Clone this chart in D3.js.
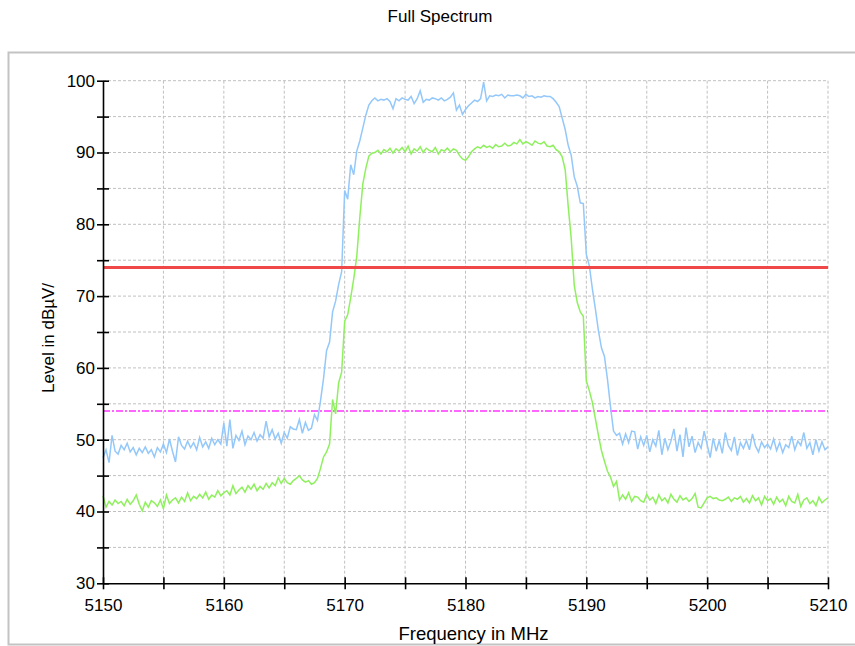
<!DOCTYPE html>
<html>
<head>
<meta charset="utf-8">
<script src="https://cdn.jsdelivr.net/npm/d3@7/dist/d3.min.js"></script>
<style>
  body { margin: 0; background: #fff; }
  svg { display: block; font-family: "Liberation Sans", Arial, sans-serif; }
  .grid line { stroke: #c0c0c0; stroke-width: 1; stroke-dasharray: 3,2; }
  .axis path, .axis line { stroke: #000; stroke-width: 1.6; }
  .axis text { font-size: 17px; fill: #000; }
</style>
</head>
<body>
<div id="chart"></div>
<script>
// spectrum sampled every 0.25 MHz from 5150 to 5210 MHz
var freqStart = 5150, freqStep = 0.25

var peakTrace = [
  47.5, 48.6, 46.8, 50.6, 48.4, 48.0, 49.2, 48.6, 49.5, 48.3, 48.9, 47.9, 48.8, 48.2, 49.0, 48.1, 48.6, 47.6, 48.9, 48.3,
  49.4, 48.2, 50.1, 48.4, 46.9, 50.4, 49.2, 48.7, 49.8, 48.9, 49.6, 48.6, 50.3, 49.0, 49.7, 48.8, 50.2, 49.3, 50.0, 49.4,
  52.3, 49.1, 52.8, 48.8, 50.6, 49.9, 51.2, 49.3, 50.5, 50.0, 51.0, 49.8, 50.7, 50.2, 52.6, 50.4, 51.4, 50.1, 50.9, 49.5,
  51.0, 50.2, 51.8, 51.5, 51.4, 52.8, 50.9, 52.4, 51.3, 51.6, 53.5, 52.7, 55.4, 58.5, 62.4, 63.6, 67.8, 69.3, 71.6, 73.4,
  84.7, 83.5, 88.3, 86.9, 90.2, 91.6, 93.4, 95.2, 96.6, 97.2, 97.6, 97.2, 97.4, 97.3, 97.5, 97.1, 96.1, 97.5, 97.2, 97.6,
  97.4, 97.3, 97.8, 96.8, 97.5, 98.6, 97.0, 97.4, 97.3, 97.6, 97.5, 97.3, 97.6, 97.2, 97.4, 97.7, 98.3, 95.9, 96.6, 95.3,
  96.0, 96.5, 96.9, 97.3, 97.1, 97.5, 99.8, 97.2, 97.9, 97.8, 98.0, 97.9, 98.1, 97.6, 98.0, 97.9, 97.9, 98.0, 97.9, 97.6,
  98.1, 97.8, 97.9, 97.6, 97.8, 97.7, 97.9, 97.8, 97.8, 97.5, 97.0, 96.4, 94.8, 93.2, 91.0, 89.6, 86.6, 85.3, 83.0, 82.9,
  75.8, 74.2, 71.0, 68.2, 65.2, 62.8, 61.6, 58.4, 54.6, 51.2, 50.6, 50.9, 49.4, 50.8, 49.6, 51.2, 51.1, 48.7, 50.4, 49.2,
  50.6, 48.3, 50.0, 49.1, 51.3, 47.9, 50.2, 48.6, 49.8, 51.5, 48.4, 50.7, 47.6, 51.7, 49.0, 50.5, 48.2, 49.6, 48.8, 51.2,
  49.3, 47.5, 50.2, 48.4, 49.9, 48.1, 51.0, 49.2, 48.5, 50.4, 47.8, 49.6, 48.8, 49.9, 48.6, 50.8, 49.1, 48.3, 49.7, 48.9,
  49.4, 48.7, 50.1, 48.5, 49.6, 48.2, 49.3, 48.9, 50.5, 48.6, 49.8, 49.2, 51.0, 48.8, 49.6, 47.9, 50.0, 48.4, 49.7, 48.6,
  49.0
]

var avgTrace = [
  42.2, 40.6, 41.4, 40.9, 41.6, 41.1, 41.4, 40.8, 41.7, 41.0, 41.5, 42.3, 41.0, 40.1, 41.3, 40.6, 41.5, 41.2, 40.7, 41.6,
  40.4, 42.3, 41.1, 41.6, 41.9, 41.2, 42.0, 41.4, 42.6, 41.5, 42.1, 41.8, 42.4, 41.9, 42.7, 41.7, 42.3, 42.0, 42.9, 42.2,
  42.6, 42.9, 42.3, 43.6, 42.5, 43.0, 43.4, 42.7, 43.6, 43.1, 43.8, 42.9, 43.5, 43.1, 43.9, 43.3, 44.0, 43.6, 44.7, 43.9,
  44.6, 44.0, 43.8, 44.3, 44.6, 45.0, 44.4, 44.1, 44.3, 43.8, 44.0, 44.6, 46.0, 47.6, 48.3, 49.4, 55.6, 53.6, 57.9, 59.4,
  66.5, 67.4, 69.8, 72.4, 75.5, 80.9, 85.6, 87.8, 89.5, 89.9, 90.0, 90.3, 89.8, 90.4, 90.1, 90.6, 89.9, 90.5, 90.2, 90.7,
  90.1, 90.9, 89.8, 90.5, 90.2, 90.8, 90.0, 90.6, 90.3, 90.1, 90.7, 89.8, 90.4, 90.2, 90.6, 90.1, 90.5, 90.3, 89.6, 89.1,
  88.9, 89.4, 90.1, 90.5, 90.8, 90.6, 91.0, 90.7, 90.9, 90.6, 91.1, 90.8, 90.9, 91.3, 90.9, 91.0, 91.4, 91.2, 91.8, 91.2,
  91.5, 91.3, 91.0, 91.6, 91.3, 91.2, 91.5, 90.9, 90.8, 91.0, 90.4, 90.1, 89.4, 87.6, 82.5, 78.0, 71.5, 69.1, 67.8, 67.2,
  58.2, 56.8, 55.2, 52.9, 50.6, 48.5, 47.0, 45.6, 44.8, 43.5, 44.2, 41.6, 42.3, 41.7, 42.6, 41.4, 42.1, 42.0, 41.5, 41.3,
  42.4, 41.6, 42.0, 41.1, 42.3, 41.5, 41.9, 41.2, 42.4, 41.7, 41.3, 42.2, 41.6, 41.9, 41.4, 41.8, 42.5, 40.6, 40.5, 41.2,
  41.9, 42.1, 41.8, 41.9, 41.6, 41.5, 41.7, 42.0, 41.4, 41.9, 41.7, 42.1, 41.3, 41.8, 41.2, 42.2, 41.5, 41.9, 40.9, 42.1,
  41.5, 41.8, 41.0, 42.0, 41.3, 41.7, 40.8, 42.1, 41.4, 41.2, 42.4, 40.7, 41.6, 41.9, 41.1, 41.5, 40.8, 42.0, 41.2, 41.6,
  41.9
]

var limitLine = 74      // red limit
var marginLine = 54     // magenta dash-dot line

var xTicks = [5150, 5155, 5160, 5165, 5170, 5175, 5180, 5185, 5190, 5195, 5200, 5205, 5210]
var yTicks = [30, 35, 40, 45, 50, 55, 60, 65, 70, 75, 80, 85, 90, 95, 100]

var W = 855, H = 646
var margin = { top: 80.7, right: 27, bottom: 62.7, left: 103 },
    width = W - margin.left - margin.right,
    height = H - margin.top - margin.bottom

var root = d3.select("#chart")
    .append("svg")
    .attr("width", W)
    .attr("height", H)

// outer frame (runs off the right edge)
root.append("rect")
    .attr("x", 8.5).attr("y", 52.5)
    .attr("width", 860).attr("height", 592)
    .attr("fill", "none")
    .attr("stroke", "#c3c3c3")
    .attr("stroke-width", 2)

root.append("text")
    .attr("x", 440).attr("y", 22)
    .attr("text-anchor", "middle")
    .style("font-size", "17px")
    .text("Full Spectrum")

var svg = root.append("g")
    .attr("transform", "translate(" + margin.left + "," + margin.top + ")")

var x = d3.scaleLinear().domain([5150, 5210]).range([0, width])
var y = d3.scaleLinear().domain([30, 100]).range([height, 0])

// grid
svg.append("g").attr("class", "grid")
    .selectAll("line")
    .data(yTicks.filter(function (d) { return d > 30 }))
    .enter().append("line")
    .attr("x1", 0).attr("x2", width)
    .attr("y1", function (d) { return y(d) })
    .attr("y2", function (d) { return y(d) })

svg.append("g").attr("class", "grid")
    .selectAll("line")
    .data(xTicks.filter(function (d) { return d > 5150 }))
    .enter().append("line")
    .attr("y1", 0).attr("y2", height)
    .attr("x1", function (d) { return x(d) })
    .attr("x2", function (d) { return x(d) })

// limit lines
svg.append("line")
    .attr("x1", 0).attr("x2", width)
    .attr("y1", y(marginLine)).attr("y2", y(marginLine))
    .attr("stroke", "#ff33ff")
    .attr("stroke-width", 1.3)
    .attr("stroke-dasharray", "7,2,2,2")

var line = d3.line()
    .x(function (d, i) { return x(freqStart + i * freqStep) })
    .y(function (d) { return y(d) })

svg.append("path")
    .datum(avgTrace)
    .attr("fill", "none")
    .attr("stroke", "#8ff05e")
    .attr("stroke-width", 1.5)
    .attr("d", line)

svg.append("path")
    .datum(peakTrace)
    .attr("fill", "none")
    .attr("stroke", "#94c8fa")
    .attr("stroke-width", 1.5)
    .attr("d", line)

svg.append("line")
    .attr("x1", 0).attr("x2", width)
    .attr("y1", y(limitLine)).attr("y2", y(limitLine))
    .attr("stroke", "#f04848")
    .attr("stroke-width", 3)

// axes with ticks crossing the axis line
var yAxis = d3.axisLeft(y)
    .tickValues(yTicks)
    .tickSize(6)
    .tickPadding(2)
    .tickSizeOuter(0)
    .tickFormat(function (d) { return d % 10 === 0 ? d : "" })

var xAxis = d3.axisBottom(x)
    .tickValues(xTicks)
    .tickSize(6)
    .tickPadding(10)
    .tickSizeOuter(0)
    .tickFormat(function (d) { return d % 10 === 0 ? d : "" })

var gy = svg.append("g").attr("class", "axis").call(yAxis)
gy.selectAll(".tick line").attr("x1", 6)

var gx = svg.append("g").attr("class", "axis")
    .attr("transform", "translate(0," + height + ")")
    .call(xAxis)
gx.selectAll(".tick line").attr("y1", -6)

svg.append("text")
    .attr("x", width / 2 + 8).attr("y", height + 57)
    .attr("text-anchor", "middle")
    .style("font-size", "18.5px")
    .text("Frequency in MHz")

svg.append("text")
    .attr("transform", "translate(" + (-49) + "," + (y(60) - 30) + ") rotate(-90)")
    .attr("text-anchor", "middle")
    .style("font-size", "17px")
    .text("Level in dBµV/")
</script>
</body>
</html>
